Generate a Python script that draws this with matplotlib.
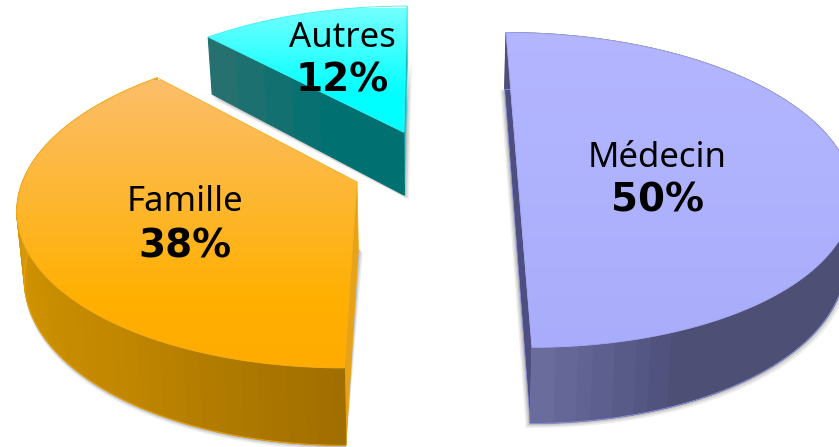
import numpy as np
import matplotlib
matplotlib.use("Agg")
import matplotlib.pyplot as plt
from matplotlib.patches import Polygon
from matplotlib.colors import to_rgb, LinearSegmentedColormap

categories = ["Médecin", "Famille", "Autres"]
values = [50, 38, 12]

# view / projection
VX, VY = 430.0, 167.0
RX, RY = 330.0, 154.0
K = 0.146
DEPTH = 65.0
SHRINK = 0.982
explode = {"Médecin": (0.264, 0.0), "Famille": (-0.218, -0.096), "Autres": (-0.082, 0.233)}

top_grad = {
    "Médecin": [(20, "#B4B7FF"), (360, "#A9ACFA")],
    "Famille": [(80, "#FCBE6A"), (300, "#FFB000"), (370, "#FFAB00")],
    "Autres": [(8, "#74FFFF"), (95, "#00FFFF"), (135, "#00FFFF")],
}
rim_cols = {
    "Médecin": [(180, "#6C6E9F"), (170, "#5E608F"), (162, "#535481"), (157, "#4E4F75"), (0, "#4E4F75")],
    "Famille": [(180, "#A06E00"), (215, "#C08600"), (250, "#D09200"), (295, "#E2A52A"), (317, "#E8A82C")],
}
cut_cols = {"Autres": [(0, "#267070"), (0.55, "#007070"), (1, "#007070")]}
face_cols = {"Médecin": "#4E4F80", "Famille": "#E8A218", "Autres": "#12B8B8"}
edge_cols = {"Médecin": "#8C92E4", "Famille": "#F0A400", "Autres": "#1AD8D8"}
top_edge_cols = {"Médecin": "#A5A9F5", "Famille": "#F6AE20", "Autres": "#3CF0F0"}


def project(px, py):
    w = 1 + K * py
    return VX + RX * px / w, VY - RY * py / w, w


def top_pt(th, off):
    t = np.radians(th)
    return project(off[0] + np.sin(t), off[1] + np.cos(t))


def low(x, y, w):
    return VX + (x - VX) * SHRINK, y + DEPTH / w


def hexmix(stops, v):
    vs = np.array([s[0] for s in stops], dtype=float)
    cs = np.array([to_rgb(s[1]) for s in stops])
    order = np.argsort(vs)
    return tuple(np.interp(v, vs[order], cs[order, i]) for i in range(3))


fig = plt.figure(figsize=(8.39, 4.47), dpi=100)
ax = fig.add_axes([0, 0, 1, 1])
ax.set_xlim(0, 839)
ax.set_ylim(447, 0)
ax.axis("off")

fractions = np.array(values) / sum(values)
ends = np.cumsum(fractions) * 360
starts = ends - fractions * 360
spans = dict(zip(categories, zip(starts, ends)))

z = 1
for name in ["Autres", "Famille", "Médecin"]:
    a0, a1 = spans[name]
    off = explode[name]
    th = np.linspace(a0, a1, 160)
    tp = np.array([top_pt(t, off) for t in th])
    apex = np.array(project(off[0], off[1]))
    lowrim = np.array([low(*p) for p in tp])
    alow = np.array(low(*apex))

    # soft shadow under the body silhouette
    for s, alpha in [(4.5, 0.10), (3.0, 0.16), (1.5, 0.22)]:
        if name == "Médecin":
            sil = np.vstack([lowrim[0] + [-s, 0], alow + [-s, 0], lowrim[-1] + [-s, s],
                             lowrim[::-1] + [s - 1, s]])
        elif name == "Famille":
            sil = np.vstack([lowrim + [0, s], alow + [s, s]])
        else:
            sil = np.vstack([lowrim[0] + [0, s], alow + [s, s], lowrim[-1] + [s, 0], apex[:2]])
        ax.add_patch(Polygon(sil, fc="#606060", ec="none", alpha=alpha, zorder=z))
    z += 1

    # cut faces (only the parts that are seen from above)
    if name == "Médecin":
        faces = [[tp[0, :2], lowrim[0], alow, lowrim[-1], tp[-1, :2]]]
    elif name == "Famille":
        faces = [[apex[:2], tp[0, :2], lowrim[0], alow]]
    else:
        faces = [[tp[-1, :2], lowrim[-1], alow, apex[:2]]]
    for face in faces:
        ax.add_patch(Polygon(face, fc=face_cols[name], ec=edge_cols[name], lw=0.5, zorder=z))
    if name == "Autres":
        # large front cut face with stepped tint
        n = 7
        pl, ql = np.array(tp[0, :2]), np.array(lowrim[0])
        ap, al = np.array(apex[:2]), np.array(alow)
        for j in range(n):
            s0, s1 = j / n, (j + 1) / n
            c = hexmix(cut_cols[name], s0)
            ax.add_patch(Polygon([pl + (ap - pl) * s0, pl + (ap - pl) * s1,
                                  ql + (al - ql) * s1, ql + (al - ql) * s0],
                                 fc=c, ec=c, lw=0.8, zorder=z + 0.5))
    z += 1

    # outer rim, drawn as coloured strips
    if name != "Autres":
        nb = 60
        idx = np.linspace(0, len(th) - 1, nb + 1).astype(int)
        for i0, i1 in zip(idx[:-1], idx[1:]):
            tm = 0.5 * (th[i0] + th[i1])
            c = hexmix(rim_cols[name], tm)
            ax.add_patch(Polygon(np.vstack([tp[i0:i1 + 1, :2], lowrim[i0:i1 + 1][::-1]]),
                                 fc=c, ec=c, lw=0.8, zorder=z))
        ax.plot(lowrim[:, 0], lowrim[:, 1], color=edge_cols[name], lw=0.6, zorder=z)
    z += 1

    # top face with vertical gradient, clipped to the wedge outline
    outline = np.vstack([[apex[:2]], tp[:, :2]])
    patch = Polygon(outline, fc="none", ec="none", zorder=z, transform=ax.transData)
    ax.add_patch(patch)
    stops = top_grad[name]
    y0, y1 = stops[0][0], stops[-1][0]
    cm = LinearSegmentedColormap.from_list(
        name, [((s[0] - y0) / (y1 - y0), s[1]) for s in stops])
    grad = np.linspace(0, 1, 256)[:, None]
    im = ax.imshow(grad, cmap=cm, extent=[0, 839, y1, y0], aspect="auto", zorder=z,
                   interpolation="bilinear")
    im.set_clip_path(patch)
    ax.add_patch(Polygon(outline, fc="none", ec=top_edge_cols[name], lw=0.6, zorder=z + 0.5))
    z += 1

ax.set_xlim(0, 839)
ax.set_ylim(447, 0)

label_font = ["Noto Sans", "DejaVu Sans"]
label_pos = {"Médecin": (657, 158, 200), "Famille": (185, 202, 246), "Autres": (342, 38, 80)}
for name, v in zip(categories, values):
    x, y1, y2 = label_pos[name]
    ax.text(x, y1, name, ha="center", va="center", fontsize=25, color="black",
            family=label_font, zorder=50)
    ax.text(x, y2, f"{v}%", ha="center", va="center", fontsize=28, fontweight="bold",
            color="black", family="DejaVu Sans", zorder=50)

fig.savefig("out.png", dpi=100, facecolor="white")
